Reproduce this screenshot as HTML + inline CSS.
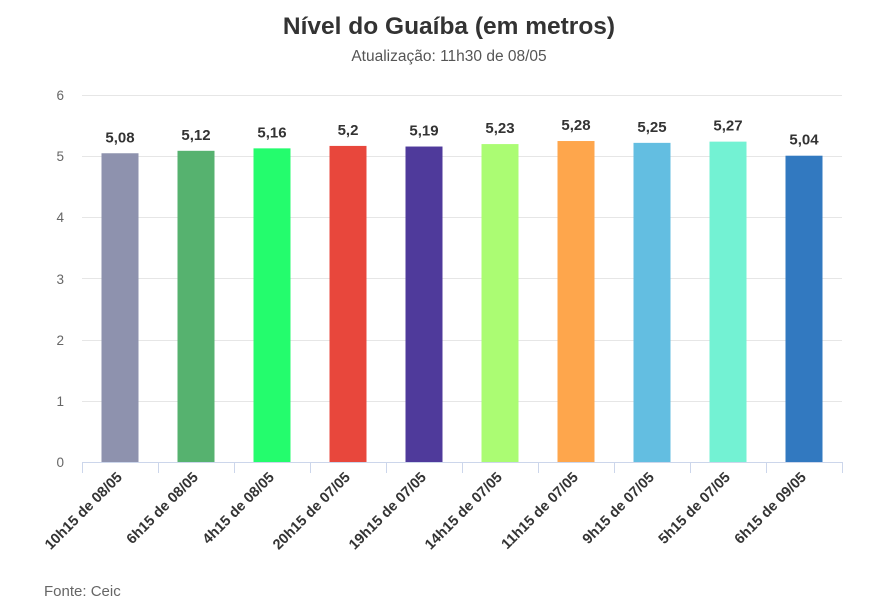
<!DOCTYPE html><html><head><style>body{margin:0;background:#fff}svg{display:block;font-family:"Liberation Sans",sans-serif}</style></head><body>
<svg width="881" height="613" xmlns="http://www.w3.org/2000/svg">
<text x="449" y="34" text-anchor="middle" font-size="24.5" font-weight="bold" fill="#333">Nível do Guaíba (em metros)</text>
<text x="449" y="61" text-anchor="middle" font-size="15.5" fill="#555">Atualização: 11h30 de 08/05</text>
<g stroke="#e6e6e6" stroke-width="1">
<line x1="82" x2="842" y1="95.5" y2="95.5"/><line x1="82" x2="842" y1="156.5" y2="156.5"/><line x1="82" x2="842" y1="217.5" y2="217.5"/><line x1="82" x2="842" y1="278.5" y2="278.5"/><line x1="82" x2="842" y1="340.5" y2="340.5"/><line x1="82" x2="842" y1="401.5" y2="401.5"/>
</g>
<g font-size="13.5" fill="#666" text-anchor="end">
<text x="64" y="100">6</text><text x="64" y="161">5</text><text x="64" y="222">4</text><text x="64" y="284">3</text><text x="64" y="345">2</text><text x="64" y="406">1</text><text x="64" y="467">0</text>
</g>
<g id="bars"></g>
<line x1="82" x2="842" y1="462.5" y2="462.5" stroke="#ccd6eb"/>
<g id="ticks" stroke="#ccd6eb"></g>
<g id="lbl" font-size="14.5" font-weight="bold" fill="#333"></g>
<text x="44" y="596" font-size="15" fill="#666">Fonte: Ceic</text>
</svg>
<script>
var v=[5.08,5.12,5.16,5.2,5.19,5.23,5.28,5.25,5.27,5.04],
c=["#8e92ae","#56b26f","#24fc6d","#e8473c","#4f3a9b","#abfc73","#fea64c","#63bee1","#73f2d3","#3279c0"],
l=["10h15 de 08/05","6h15 de 08/05","4h15 de 08/05","20h15 de 07/05","19h15 de 07/05","14h15 de 07/05","11h15 de 07/05","9h15 de 07/05","5h15 de 07/05","6h15 de 09/05"],
n="http://www.w3.org/2000/svg",s=76;
function e(t,a,p,txt){var o=document.createElementNS(n,t);for(var k in a)o.setAttribute(k,a[k]);if(txt)o.textContent=txt;document.getElementById(p).appendChild(o);}
for(var i=0;i<10;i++){var cx=82+s*i+38,h=v[i]*61.17-2,y=462-h;
e("rect",{x:cx-18.5,y:y,width:37,height:h,fill:c[i]},"bars");
e("text",{x:cx,y:y-11,"text-anchor":"middle","font-size":"15","font-weight":"bold",fill:"#333"},"bars",String(v[i]).replace(".",","));
e("text",{x:cx+3,y:478,"text-anchor":"end",transform:"rotate(-45 "+(cx+3)+" 478)"},"lbl",l[i]);}
for(var i=0;i<=10;i++){var x=82.5+s*i;e("line",{x1:x,x2:x,y1:462,y2:473},"ticks");}
</script>
</body></html>
